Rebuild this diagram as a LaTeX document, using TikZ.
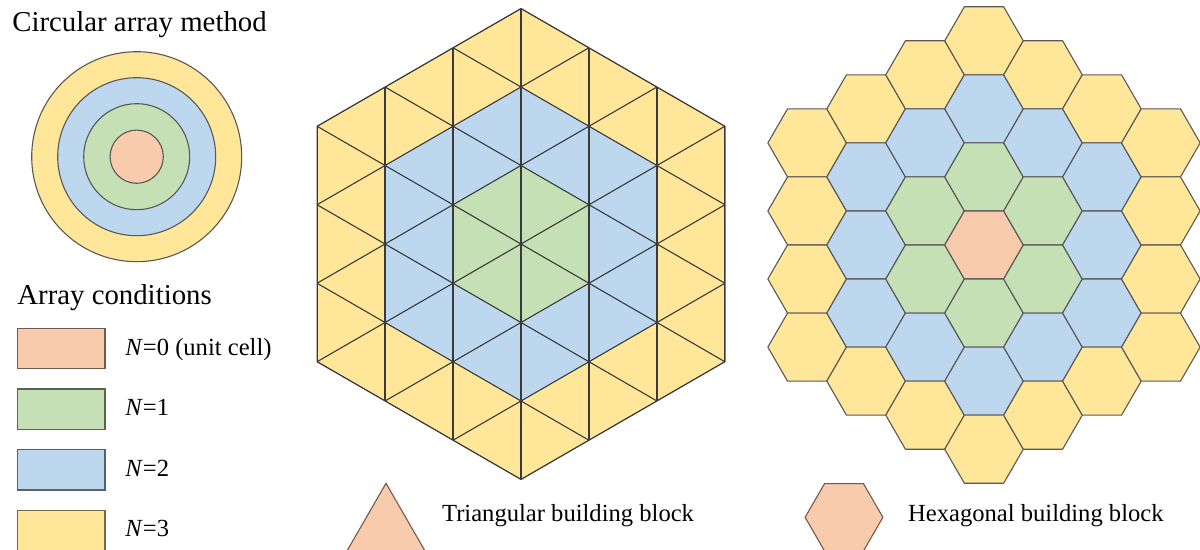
\documentclass[tikz,border=0pt]{standalone}
\usepackage{fontspec}
\setmainfont{Liberation Serif}
\definecolor{ora}{HTML}{F8CBAD}
\definecolor{gre}{HTML}{C5E0B4}
\definecolor{blu}{HTML}{BDD7EE}
\definecolor{yel}{HTML}{FFE699}
\definecolor{edge}{HTML}{3A3A3A}
\begin{document}
\begin{tikzpicture}[x=0.5pt,y=-0.5pt,
  gridline/.style={draw=edge,line width=0.55pt},
  cell/.style={draw=edge!85,line width=0.55pt,line join=round},
  ring/.style={draw=edge!85,line width=0.55pt},
  legbox/.style={line width=0.6pt},
  head/.style={inner sep=0pt,anchor=base west,font=\fontsize{14.4}{17}\selectfont},
  lab/.style={inner sep=0pt,anchor=base west,font=\fontsize{12.3}{15}\selectfont}]
\useasboundingbox (0,0) rectangle (1200,550);
\clip (0,0) rectangle (1200,550);

% ---------- circular array ----------
\begin{scope}[shift={(136.7,156.7)}]
  \filldraw[ring,fill=yel] (0,0) circle[radius=105];
  \filldraw[ring,fill=blu] (0,0) circle[radius=79];
  \filldraw[ring,fill=gre] (0,0) circle[radius=53];
  \filldraw[ring,fill=ora] (0,0) circle[radius=26.6];
\end{scope}
\node[head] (title) at (12,31.7) {Circular array method};
\node[head] (cond) at (17,304.3) {Array conditions};

% ---------- legend ----------
\filldraw[legbox,fill=ora,draw=ora!45!black] (17.3,328.3) rectangle (105,368.5);
\filldraw[legbox,fill=gre,draw=gre!45!black] (17.3,389.1) rectangle (105,429.3);
\filldraw[legbox,fill=blu,draw=blu!45!black] (17.3,449.9) rectangle (105,490.1);
\filldraw[legbox,fill=yel,draw=yel!45!black] (17.3,510.7) rectangle (105,550.9);
\node[lab] (l0) at (125,355.7) {\textit{N}=0 (unit cell)};
\node[lab] (l1) at (125,416) {\textit{N}=1};
\node[lab] (l2) at (125,476.5) {\textit{N}=2};
\node[lab] (l3) at (125,536.7) {\textit{N}=3};

% ---------- triangular array ----------
\begin{scope}[shift={(521,244)}]
  \fill[yel] (30:235.5) -- (90:235.5) -- (150:235.5) -- (210:235.5) -- (270:235.5) -- (330:235.5) -- cycle;
  \fill[blu] (30:157) -- (90:157) -- (150:157) -- (210:157) -- (270:157) -- (330:157) -- cycle;
  \fill[gre] (30:78.5) -- (90:78.5) -- (150:78.5) -- (210:78.5) -- (270:78.5) -- (330:78.5) -- cycle;
  \begin{scope}
    \clip (30:235.5) -- (90:235.5) -- (150:235.5) -- (210:235.5) -- (270:235.5) -- (330:235.5) -- cycle;
    \foreach \kk in {-3,...,3}
      \draw[gridline] (\kk*67.98,-250) -- (\kk*67.98,250);
    \foreach \kk in {-6,...,6}{
      \draw[gridline] (-271.92,\kk*78.5-157) -- (271.92,\kk*78.5+157);
      \draw[gridline] (-271.92,\kk*78.5+157) -- (271.92,\kk*78.5-157);
    }
  \end{scope}
  \draw[gridline,line join=round] (30:235.5) -- (90:235.5) -- (150:235.5) -- (210:235.5) -- (270:235.5) -- (330:235.5) -- cycle;
\end{scope}

% ---------- hexagonal array ----------
\foreach \qq in {-3,...,3}{
  \foreach \rr in {-3,...,3}{
    \pgfmathtruncatemacro\dd{(abs(\qq)+abs(\rr)+abs(\qq+\rr))/2}
    \ifnum\dd<4
      \ifcase\dd \def\hcol{ora}\or \def\hcol{gre}\or \def\hcol{blu}\or \def\hcol{yel}\fi
      \pgfmathsetmacro\hx{984+58.95*\qq}
      \pgfmathsetmacro\hy{245+68.07*\rr+34.035*\qq}
      \filldraw[cell,fill=\hcol,shift={(\hx,\hy)}]
        (0:39.3) -- (60:39.3) -- (120:39.3) -- (180:39.3) -- (240:39.3) -- (300:39.3) -- cycle;
    \fi
  }
}

% ---------- building blocks ----------
\filldraw[fill=ora,draw=ora!45!black,line width=0.55pt,line join=round]
  (386,483.3) -- (425.25,551.3) -- (346.75,551.3) -- cycle;
\node[lab] (tri) at (441.7,522) {Triangular building block};
\filldraw[fill=ora,draw=ora!45!black,line width=0.55pt,line join=round,shift={(844,517.3)}]
  (0:38.9) -- (60:38.9) -- (120:38.9) -- (180:38.9) -- (240:38.9) -- (300:38.9) -- cycle;
\node[lab] (hex) at (907.7,522) {Hexagonal building block};
\end{tikzpicture}
\end{document}
